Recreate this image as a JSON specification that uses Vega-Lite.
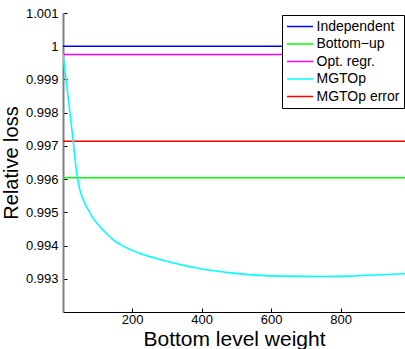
{
  "$schema": "https://vega.github.io/schema/vega-lite/v6.json",
  "width": 342,
  "height": 299,
  "autosize": {"type": "none"},
  "padding": {"left": 63, "top": 13, "right": 0, "bottom": 37},
  "background": "white",
  "config": {
    "view": {"stroke": null}
  },
  "data": {
    "values": [
      {"series": "Independent", "w": 1, "v": 1.0},
      {"series": "Independent", "w": 985, "v": 1.0},
      {"series": "Bottom\u2212up", "w": 1, "v": 0.99604},
      {"series": "Bottom\u2212up", "w": 985, "v": 0.99604},
      {"series": "Opt. regr.", "w": 1, "v": 0.99975},
      {"series": "Opt. regr.", "w": 985, "v": 0.99975},
      {"series": "MGTOp error", "w": 1, "v": 0.99714},
      {"series": "MGTOp error", "w": 985, "v": 0.99714},
      {"series": "MGTOp", "w": 1, "v": 0.99976},
      {"series": "MGTOp", "w": 6.8, "v": 0.99926},
      {"series": "MGTOp", "w": 12.5, "v": 0.99875},
      {"series": "MGTOp", "w": 18.3, "v": 0.99824},
      {"series": "MGTOp", "w": 24, "v": 0.99771},
      {"series": "MGTOp", "w": 29.8, "v": 0.9972},
      {"series": "MGTOp", "w": 35.5, "v": 0.99662},
      {"series": "MGTOp", "w": 42.1, "v": 0.99608},
      {"series": "MGTOp", "w": 49.9, "v": 0.99566},
      {"series": "MGTOp", "w": 58.5, "v": 0.9954},
      {"series": "MGTOp", "w": 69.2, "v": 0.99516},
      {"series": "MGTOp", "w": 88.2, "v": 0.99481},
      {"series": "MGTOp", "w": 117, "v": 0.99446},
      {"series": "MGTOp", "w": 145.7, "v": 0.99417},
      {"series": "MGTOp", "w": 184.3, "v": 0.99393},
      {"series": "MGTOp", "w": 222.5, "v": 0.99376},
      {"series": "MGTOp", "w": 280, "v": 0.99358},
      {"series": "MGTOp", "w": 337.6, "v": 0.99343},
      {"series": "MGTOp", "w": 414.4, "v": 0.99327},
      {"series": "MGTOp", "w": 491, "v": 0.99317},
      {"series": "MGTOp", "w": 558, "v": 0.99311},
      {"series": "MGTOp", "w": 625, "v": 0.99308},
      {"series": "MGTOp", "w": 740, "v": 0.99307},
      {"series": "MGTOp", "w": 827, "v": 0.99308},
      {"series": "MGTOp", "w": 913, "v": 0.99312},
      {"series": "MGTOp", "w": 985, "v": 0.99315}
    ]
  },
  "mark": {"type": "line", "strokeWidth": 1.6, "interpolate": "monotone", "clip": true},
  "encoding": {
    "x": {
      "field": "w",
      "type": "quantitative",
      "scale": {"domain": [1, 985], "nice": false, "zero": false},
      "axis": {
        "title": "Bottom level weight",
        "titleFontSize": 21,
        "titleFontWeight": "normal",
        "titleColor": "black",
        "titlePadding": 2,
        "values": [200, 400, 600, 800],
        "format": "d",
        "labelFontSize": 13,
        "labelColor": "black",
        "labelPadding": 5,
        "tickSize": -4,
        "tickColor": "black",
        "domainColor": "black",
        "domainWidth": 1,
        "grid": false
      }
    },
    "y": {
      "field": "v",
      "type": "quantitative",
      "scale": {"domain": [0.992, 1.001], "nice": false, "zero": false},
      "axis": {
        "title": "Relative loss",
        "titleFontSize": 20,
        "titleFontWeight": "normal",
        "titleColor": "black",
        "titlePadding": 4,
        "values": [0.993, 0.994, 0.995, 0.996, 0.997, 0.998, 0.999, 1.0, 1.001],
        "labelExpr": "abs(datum.value - 1) < 1e-9 ? '1' : format(datum.value, '.3f')",
        "labelFontSize": 13,
        "labelColor": "black",
        "labelPadding": 9,
        "tickSize": -4,
        "tickColor": "black",
        "domainColor": "#808080",
        "domainWidth": 2,
        "grid": false
      }
    },
    "color": {
      "field": "series",
      "type": "nominal",
      "sort": ["Independent", "Bottom\u2212up", "Opt. regr.", "MGTOp", "MGTOp error"],
      "scale": {
        "domain": ["Independent", "Bottom\u2212up", "Opt. regr.", "MGTOp", "MGTOp error"],
        "range": ["#0000ff", "#00ff00", "#ff00ff", "#00ffff", "#ff0000"]
      },
      "legend": {
        "title": null,
        "orient": "none",
        "legendX": 219,
        "legendY": 2,
        "fillColor": "white",
        "strokeColor": "black",
        "padding": 4,
        "symbolType": "M-2,0H2",
        "symbolSize": 169,
        "symbolStrokeWidth": 1.5,
        "symbolOffset": 6.5,
        "labelFontSize": 14,
        "labelColor": "black",
        "labelOffset": 9,
        "rowPadding": 2.5
      }
    }
  }
}
